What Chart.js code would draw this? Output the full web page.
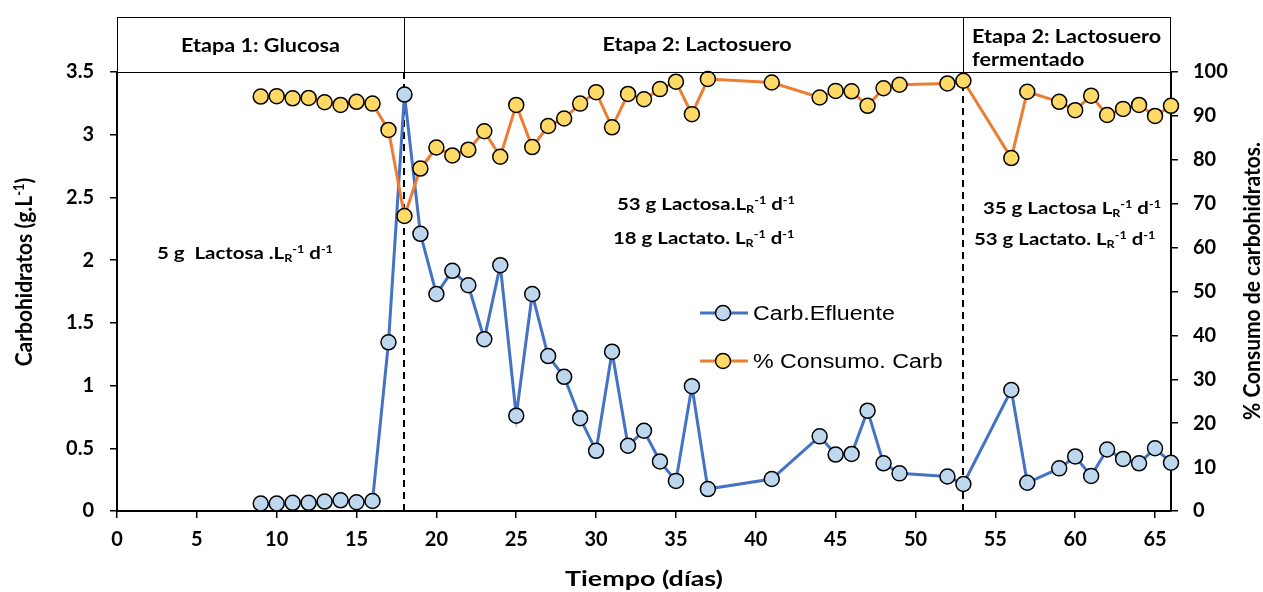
<!DOCTYPE html>
<html lang="es">
<head>
    <meta charset="UTF-8">
    <title>Carbohidratos - Etapas</title>
    <script src="https://cdn.jsdelivr.net/npm/chart.js"></script>
    <style>
        body { margin: 0; background: #fff; }
    </style>
</head>
<body>
    <canvas id="grafico" width="1263" height="592"></canvas>

    <script>
        // Datos
        const dias = [9, 10, 11, 12, 13, 14, 15, 16, 17, 18, 19, 20, 21, 22, 23, 24, 25, 26, 27, 28, 29, 30,
            31, 32, 33, 34, 35, 36, 37, 41, 44, 45, 46, 47, 48, 49, 52, 53, 56, 57, 59, 60, 61, 62, 63, 64, 65, 66];
        const carbEfluente = [0.06, 0.06, 0.065, 0.065, 0.075, 0.085, 0.07, 0.08, 1.345, 3.32, 2.21, 1.73, 1.915, 1.80,
            1.37, 1.96, 0.76, 1.73, 1.235, 1.07, 0.74, 0.48, 1.27, 0.52, 0.64, 0.395, 0.24, 0.995, 0.175, 0.255,
            0.595, 0.45, 0.455, 0.80, 0.38, 0.30, 0.275, 0.215, 0.965, 0.225, 0.34, 0.435, 0.28, 0.49, 0.415, 0.38, 0.50, 0.385];
        const consumoCarb = [94.4, 94.5, 94.0, 94.1, 93.1, 92.5, 93.2, 92.8, 86.8, 67.2, 78.0, 82.8, 81.0, 82.3,
            86.5, 80.7, 92.5, 82.9, 87.7, 89.4, 92.8, 95.4, 87.4, 95.0, 93.8, 96.1, 97.8, 90.4, 98.4, 97.6,
            94.2, 95.7, 95.6, 92.3, 96.3, 97.1, 97.4, 98.0, 80.4, 95.5, 93.2, 91.3, 94.6, 90.2, 91.6, 92.5, 90.0, 92.3];
        const ticksX = [0, 5, 10, 15, 20, 25, 30, 35, 40, 45, 50, 55, 60, 65];
        const cambiosEtapa = [18, 53];

        const FUENTE = 'Lato, "Open Sans", sans-serif';
        const ESTIRAR = 1.2;

        // dibuja texto con subindices / superindices
        function textoRico(ctx, partes, x, y, tam, opts) {
            opts = opts || {};
            const familia = opts.familia || FUENTE;
            const peso = opts.peso || 'bold';
            ctx.save();
            let ancho = 0;
            partes.forEach(p => {
                const t = (p.sub || p.sup) ? tam * 0.62 : tam;
                ctx.font = `${peso} ${t}px ${familia}`;
                p._w = ctx.measureText(p.t).width;
                ancho += p._w;
            });
            ctx.translate(x, y);
            ctx.scale(opts.estirar || ESTIRAR, 1);
            if (opts.rot) ctx.rotate(opts.rot);
            let cx = opts.alinear === 'center' ? -ancho / 2 : 0;
            ctx.textAlign = 'left';
            ctx.textBaseline = 'alphabetic';
            ctx.fillStyle = '#000';
            const base = opts.medio ? tam * 0.36 : 0;
            partes.forEach(p => {
                const t = (p.sub || p.sup) ? tam * 0.62 : tam;
                ctx.font = `${peso} ${t}px ${familia}`;
                const dy = p.sup ? -tam * 0.36 : (p.sub ? tam * 0.2 : 0);
                ctx.fillText(p.t, cx, base + dy);
                cx += p._w;
            });
            ctx.restore();
        }

        function carga(antes) {
            return [{ t: antes }, { t: 'R', sub: true }, { t: '-1', sup: true }, { t: ' d' }, { t: '-1', sup: true }];
        }

        const decoracion = {
            id: 'decoracion',
            beforeDatasetsDraw(chart) {
                const { ctx, chartArea: a, scales } = chart;
                ctx.save();
                ctx.strokeStyle = '#000';
                ctx.lineWidth = 2;
                ctx.setLineDash([7, 5]);
                cambiosEtapa.forEach(d => {
                    const px = Math.round(scales.x.getPixelForValue(d));
                    ctx.beginPath();
                    ctx.moveTo(px, a.top);
                    ctx.lineTo(px, a.bottom);
                    ctx.stroke();
                });
                ctx.restore();
            },
            afterDraw(chart) {
                const { ctx, chartArea: a, scales } = chart;
                const x18 = Math.round(scales.x.getPixelForValue(cambiosEtapa[0]));
                const x53 = Math.round(scales.x.getPixelForValue(cambiosEtapa[1]));

                // cajas de etapas
                ctx.save();
                ctx.strokeStyle = '#000';
                ctx.lineWidth = 1;
                ctx.strokeRect(a.left + 0.5, 17.5, a.right - a.left - 1, a.top - 17);
                ctx.beginPath();
                ctx.moveTo(x18 + 0.5, 17); ctx.lineTo(x18 + 0.5, a.top);
                ctx.moveTo(x53 + 0.5, 17); ctx.lineTo(x53 + 0.5, a.top);
                ctx.stroke();
                ctx.restore();

                textoRico(ctx, [{ t: 'Etapa 1: Glucosa' }], (a.left + x18) / 2, 46, 18, { alinear: 'center', medio: true });
                textoRico(ctx, [{ t: 'Etapa 2: Lactosuero' }], 697, 45, 18, { alinear: 'center', medio: true });
                textoRico(ctx, [{ t: 'Etapa 2: Lactosuero' }], 972, 43, 18);
                textoRico(ctx, [{ t: 'fermentado' }], 972, 66, 18);

                // cargas organicas
                textoRico(ctx, carga('5 g  Lactosa .L'), 157, 259, 17);
                textoRico(ctx, carga('53 g Lactosa.L'), 617, 210, 17);
                textoRico(ctx, carga('18 g Lactato. L'), 613, 244, 17);
                textoRico(ctx, carga('35 g Lactosa L'), 983, 214, 17);
                textoRico(ctx, carga('53 g Lactato. L'), 974, 245, 17);

                // titulos de ejes
                textoRico(ctx, [{ t: 'Carbohidratos (g.L' }, { t: '-1', sup: true }, { t: ')' }], 24, 272, 21,
                    { alinear: 'center', medio: true, rot: -Math.PI / 2, estirar: 1.1 });
                textoRico(ctx, [{ t: '% Consumo de carbohidratos.' }], 1252, 281, 21,
                    { alinear: 'center', medio: true, rot: -Math.PI / 2, estirar: 1.1 });
                textoRico(ctx, [{ t: 'Tiempo (días)' }], (a.left + a.right) / 2, 578, 21,
                    { alinear: 'center', medio: true, estirar: 1.28 });

                // leyenda
                chart.data.datasets.forEach((ds, i) => {
                    const y = 313 + i * 48;
                    ctx.save();
                    ctx.strokeStyle = ds.borderColor;
                    ctx.lineWidth = 3;
                    ctx.beginPath();
                    ctx.moveTo(700, y); ctx.lineTo(748, y);
                    ctx.stroke();
                    ctx.beginPath();
                    ctx.arc(723, y, 7.5, 0, Math.PI * 2);
                    ctx.fillStyle = ds.pointBackgroundColor;
                    ctx.fill();
                    ctx.lineWidth = 1.5;
                    ctx.strokeStyle = '#000';
                    ctx.stroke();
                    ctx.restore();
                    textoRico(ctx, [{ t: ds.label }], 753, y, 20,
                        { familia: '"Liberation Sans", Arial, sans-serif', peso: 'normal', medio: true, estirar: 1.16 });
                });
            }
        };

        const fuenteTicks = { family: FUENTE, size: 20, weight: 'bold' };
        const rejilla = { drawOnChartArea: false, color: '#000', tickLength: 7, lineWidth: 1.5 };
        const borde = { color: '#000', width: 2 };

        new Chart(document.getElementById('grafico'), {
            type: 'line',
            data: {
                datasets: [{
                    label: 'Carb.Efluente',
                    data: dias.map((d, i) => ({ x: d, y: carbEfluente[i] })),
                    yAxisID: 'y',
                    borderColor: '#4472C4',
                    backgroundColor: '#BDD7EE',
                    pointBackgroundColor: '#BDD7EE',
                    pointBorderColor: '#000',
                    pointBorderWidth: 1.5,
                    pointRadius: 7.5,
                    borderWidth: 3,
                    tension: 0,
                    clip: false,
                    order: 1
                }, {
                    label: '% Consumo. Carb',
                    data: dias.map((d, i) => ({ x: d, y: consumoCarb[i] })),
                    yAxisID: 'y1',
                    borderColor: '#ED7D31',
                    backgroundColor: '#FFD966',
                    pointBackgroundColor: '#FFD966',
                    pointBorderColor: '#000',
                    pointBorderWidth: 1.5,
                    pointRadius: 7.5,
                    borderWidth: 3,
                    tension: 0,
                    clip: false,
                    order: 0
                }]
            },
            options: {
                responsive: false,
                animation: false,
                events: [],
                layout: { padding: { top: 72, left: 0, right: 0, bottom: 0 } },
                plugins: { legend: { display: false }, tooltip: { enabled: false } },
                scales: {
                    x: {
                        type: 'linear', min: 0, max: 66,
                        afterBuildTicks: s => { s.ticks = ticksX.map(v => ({ value: v })); },
                        afterFit: s => { s.height = 81; },
                        grid: rejilla, border: borde,
                        ticks: { font: fuenteTicks, color: '#000', padding: 10, maxRotation: 0 }
                    },
                    y: {
                        position: 'left', min: 0, max: 3.5,
                        afterFit: s => { s.width = 117; },
                        grid: rejilla, border: borde,
                        ticks: { stepSize: 0.5, font: fuenteTicks, color: '#000', padding: 16, callback: v => String(v) }
                    },
                    y1: {
                        position: 'right', min: 0, max: 100,
                        afterFit: s => { s.width = 92; },
                        grid: rejilla, border: borde,
                        ticks: { stepSize: 10, font: fuenteTicks, color: '#000', padding: 15 }
                    }
                }
            },
            plugins: [decoracion]
        });
    </script>
</body>
</html>
